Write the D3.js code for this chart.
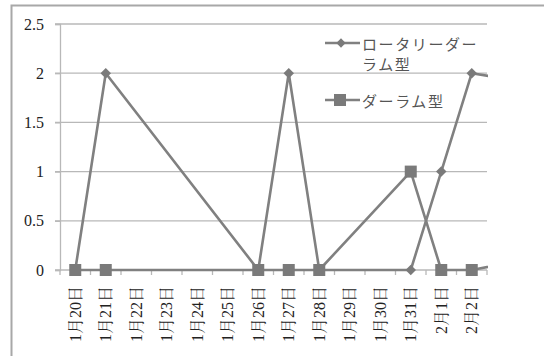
<!DOCTYPE html>
<html>
<head>
<meta charset="utf-8">
<script src="https://cdn.jsdelivr.net/npm/d3@7"></script>
<style>
  html, body { margin: 0; padding: 0; background: #fff; }
  svg { display: block; }
  .lbl { opacity: 0.999; }
</style>
</head>
<body>
<svg id="chart" width="544" height="356"></svg>
<script>
// Dates on the horizontal axis (the last one lies past the right edge and is not labelled)
const categories = ["1月20日", "1月21日", "1月22日", "1月23日", "1月24日", "1月25日", "1月26日",
                    "1月27日", "1月28日", "1月29日", "1月30日", "1月31日", "2月1日", "2月2日"];
const hiddenCategory = "2月3日";
// Series values (null = no observation that day; the line bridges over it)
const rotaryValues = [0, 2, null, null, null, null, 0, 2, 0, null, null, 0, 1, 2, 1.95];
const durhamValues = [0, 0, null, null, null, null, 0, 0, 0, null, null, 1, 0, 0, 0.06];
const yTicks = [0, 0.5, 1, 1.5, 2, 2.5];
const seriesNames = ["ロータリーダーラム型", "ダーラム型"];

const svg = d3.select("#chart");
const plotLeft = 60, plotRight = 487, plotTop = 24, plotBottom = 270;
const serif = "'Liberation Serif', 'Noto Serif CJK JP', 'Noto Sans CJK JP', serif";
const gothic = "'Noto Sans CJK JP', 'Noto Sans', sans-serif";
const gridColor = "#b8b8b8";
const lineColor = "#808080";

// Outer frame (runs off the right and bottom edges)
svg.append("path")
  .attr("d", `M11.5,356 V5.5 H544`)
  .attr("fill", "none").attr("stroke", "#a8a8a8").attr("stroke-width", 2);

const x = d3.scaleBand().domain(categories).range([plotLeft, plotRight]);
const step = x.step();
const xPos = i => plotLeft + step * (i + 0.5);
const y = d3.scaleLinear().domain([0, 2.5]).range([plotBottom, plotTop]);

// Horizontal gridlines with small left ticks
svg.append("g").selectAll("line").data(yTicks.filter(t => t > 0)).join("line")
  .attr("x1", plotLeft - 5).attr("x2", plotRight)
  .attr("y1", d => y(d)).attr("y2", d => y(d))
  .attr("stroke", gridColor).attr("stroke-width", 1.3);

// Y axis
const yAxis = svg.append("g").attr("class", "lbl").attr("transform", `translate(${plotLeft},0)`)
  .call(d3.axisLeft(y).tickValues(yTicks).tickFormat(d3.format("")).tickSize(5).tickPadding(11));
yAxis.attr("font-family", serif);
yAxis.select(".domain").attr("stroke", gridColor).attr("stroke-width", 1.3);
yAxis.selectAll(".tick line").attr("stroke", gridColor).attr("stroke-width", 1.3);
yAxis.selectAll(".tick text")
  .style("font-family", serif).attr("font-size", 16).attr("fill", "#222");

// X axis with ticks at band boundaries
const xAxisG = svg.append("g");
xAxisG.append("line")
  .attr("x1", plotLeft - 5).attr("x2", plotRight).attr("y1", plotBottom).attr("y2", plotBottom)
  .attr("stroke", gridColor).attr("stroke-width", 1.3);
xAxisG.selectAll(".xt").data(d3.range(categories.length + 1)).join("line")
  .attr("class", "xt")
  .attr("x1", i => plotLeft + i * step).attr("x2", i => plotLeft + i * step)
  .attr("y1", plotBottom).attr("y2", plotBottom + 5)
  .attr("stroke", gridColor).attr("stroke-width", 1.3);
xAxisG.append("g").attr("class", "lbl").selectAll("text").data(categories).join("text")
  .attr("transform", d => `translate(${x(d) + x.bandwidth() / 2},286) rotate(-90)`)
  .attr("text-anchor", "end").attr("dominant-baseline", "central")
  .style("font-family", serif).attr("font-size", 16).attr("fill", "#222")
  .text(d => d);

// Series lines (clipped at the right edge of the plot)
svg.append("clipPath").attr("id", "plotClip")
  .append("rect").attr("x", 0).attr("y", 0).attr("width", plotRight + 1).attr("height", 356);

const allCats = categories.concat([hiddenCategory]);
function points(vals) {
  return vals.map((v, i) => ({ i, v, cat: allCats[i] })).filter(d => d.v !== null);
}
const line = d3.line().x(d => xPos(d.i)).y(d => y(d.v));

const rotaryPts = points(rotaryValues);
const durhamPts = points(durhamValues);

const lines = svg.append("g").attr("clip-path", "url(#plotClip)");
lines.append("path").datum(durhamPts).attr("d", line)
  .attr("fill", "none").attr("stroke", lineColor).attr("stroke-width", 2.6).attr("stroke-linejoin", "round");
lines.append("path").datum(rotaryPts).attr("d", line)
  .attr("fill", "none").attr("stroke", lineColor).attr("stroke-width", 2.6).attr("stroke-linejoin", "round");

const markerFill = "#7a7a7a";
const diamond = d3.symbol().type(d3.symbolDiamond2).size(70);
const legendDiamond = d3.symbol().type(d3.symbolDiamond2).size(55);
const visible = d => d.i < categories.length;

svg.append("g").selectAll("path").data(rotaryPts.filter(visible)).join("path")
  .attr("transform", d => `translate(${xPos(d.i)},${y(d.v)})`)
  .attr("d", diamond).attr("fill", markerFill);

const sq = 12;
svg.append("g").selectAll("rect").data(durhamPts.filter(visible)).join("rect")
  .attr("x", d => xPos(d.i) - sq / 2).attr("y", d => y(d.v) - sq / 2)
  .attr("width", sq).attr("height", sq).attr("fill", markerFill);

// Legend
const legend = svg.append("g");
const legY1 = 43, legY2 = 100;
legend.append("line").attr("x1", 325).attr("x2", 360).attr("y1", legY1).attr("y2", legY1)
  .attr("stroke", lineColor).attr("stroke-width", 2.6);
legend.append("path").attr("transform", `translate(341,${legY1})`).attr("d", legendDiamond).attr("fill", markerFill);
const t1 = legend.append("text").attr("class", "lbl").attr("x", 362).attr("y", legY1)
  .attr("font-family", gothic).attr("font-size", 15).attr("fill", "#555")
  .attr("letter-spacing", 1.6)
  .attr("dominant-baseline", "central");
t1.append("tspan").attr("x", 362).attr("dy", 0).text(seriesNames[0].slice(0, 7));
t1.append("tspan").attr("x", 362).attr("dy", 20).text(seriesNames[0].slice(7));

legend.append("line").attr("x1", 325).attr("x2", 360).attr("y1", legY2).attr("y2", legY2)
  .attr("stroke", lineColor).attr("stroke-width", 2.6);
legend.append("rect").attr("x", 340 - sq / 2).attr("y", legY2 - sq / 2)
  .attr("width", sq).attr("height", sq).attr("fill", markerFill);
legend.append("text").attr("class", "lbl").attr("x", 362).attr("y", legY2)
  .attr("font-family", gothic).attr("font-size", 15).attr("fill", "#555")
  .attr("letter-spacing", 1.6)
  .attr("dominant-baseline", "central").text(seriesNames[1]);
</script>
</body>
</html>
